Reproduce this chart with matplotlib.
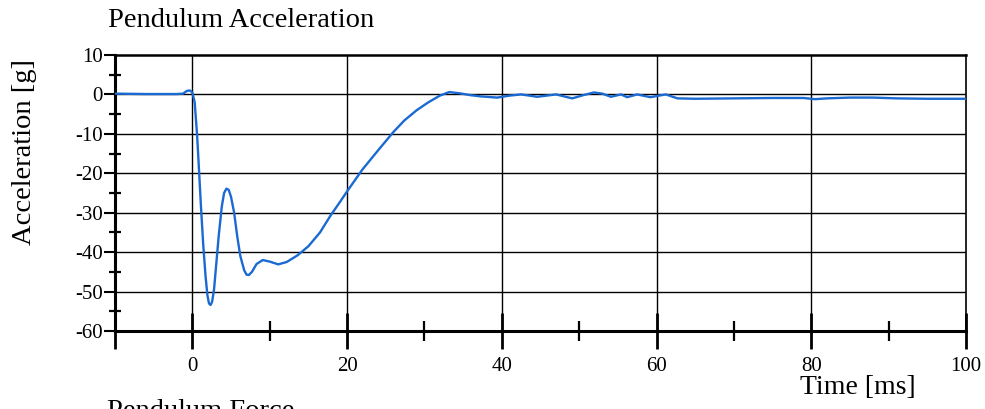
import numpy as np
import matplotlib
matplotlib.use('Agg')
import matplotlib.pyplot as plt

plt.rcParams['font.family'] = ['Liberation Serif', 'DejaVu Serif']
plt.rcParams['axes.unicode_minus'] = False

# pendulum acceleration trace (ms, g)
t_ms = [-10, -6, -2, -1.2, -0.7, -0.3, 0.0, 0.3, 0.6, 0.8, 1.1, 1.4, 1.7, 1.95, 2.15, 2.35, 2.55, 2.8,
        3.0, 3.4, 3.8, 4.1, 4.4, 4.7, 5.0, 5.4, 5.8, 6.2, 6.7, 7.0, 7.3, 7.7, 8.3, 9.1, 10.0, 11.1,
        12.2, 13.6, 15.0, 16.5, 17.9, 19.0, 20.1, 22.0, 24.0, 26.0, 27.4, 29.0, 30.5, 32.0,
        33.2, 34.5, 36.0, 37.3, 39.4, 41.0, 42.5, 44.6, 47.0, 49.1, 50.5, 51.9, 53.0, 54.1,
        55.4, 56.2, 57.5, 59.2, 61.2, 62.7, 65, 70, 75, 79, 80.5, 82, 85, 88, 91, 95, 100]
acc_g = [0.2, 0.1, 0.1, 0.2, 0.9, 1.0, 0.5, -2, -10, -17, -28, -38, -46, -51.0, -53.0, -53.4, -52.6, -49.5,
         -45, -36, -28.5, -25.0, -23.9, -24.2, -26, -30, -36, -41, -44.6, -45.7, -45.8, -45, -43, -42, -42.4, -43.1,
         -42.5, -40.8, -38.5, -35, -30.6, -27.5, -24.3, -19, -14.2, -9.5, -6.6, -4, -2, -0.3,
         0.6, 0.3, -0.2, -0.5, -0.8, -0.3, 0.0, -0.6, 0.0, -1.0, -0.2, 0.5, 0.2, -0.6,
         0.0, -0.7, 0.0, -0.7, 0.0, -1.0, -1.1, -1.0, -0.9, -0.9, -1.2, -1.0, -0.8, -0.8, -1.0, -1.1, -1.1]

x_major = [-10, 0, 20, 40, 60, 80, 100]
x_labels = ['', '0', '20', '40', '60', '80', '100']
x_minor = [10, 30, 50, 70, 90]
y_major = [10, 0, -10, -20, -30, -40, -50, -60]
y_minor = [5, -5, -15, -25, -35, -45, -55]

fig = plt.figure(figsize=(9.85, 4.09), dpi=100)
ax = fig.add_axes([115/985, 1-331/409, (966-115)/985, (331-55)/409])

ax.plot(t_ms, acc_g, color='#1a6ad2', lw=1.7, zorder=3)

ax.set_xlim(-10, 100)
ax.set_ylim(-60, 10)
ax.set_xticks(x_major)
ax.set_xticklabels(x_labels)
ax.set_xticks(x_minor, minor=True)
ax.set_yticks(y_major)
ax.set_yticks(y_minor, minor=True)

# grid: horizontal every 10 g, vertical only at the labelled times
for yv in y_major[1:-1]:
    ax.axhline(yv, color='black', lw=1.0, zorder=1)
for xv in [0, 20, 40, 60, 80]:
    ax.axvline(xv, color='black', lw=1.0, zorder=1)

ax.tick_params(axis='x', which='major', direction='inout', length=26, width=2, pad=6, labelsize=15)
ax.tick_params(axis='x', which='minor', direction='inout', length=14, width=1.6)
ax.tick_params(axis='y', which='major', direction='out', length=8, width=1.5, pad=1, labelsize=15)
ax.tick_params(axis='y', which='minor', direction='inout', length=8, width=1.6)

ax.spines['left'].set_linewidth(2.2)
ax.spines['bottom'].set_linewidth(2.2)
ax.spines['top'].set_linewidth(1.8)
ax.spines['right'].set_linewidth(1.2)

fig.text(108/985, 1-27/409, 'Pendulum Acceleration', fontsize=20.5, ha='left', va='baseline')
fig.text(25/985, 1-152/409, 'Acceleration [g]', fontsize=20.5, rotation=90, ha='center', va='center')
fig.text(858/985, 1-394/409, 'Time [ms]', fontsize=20, ha='center', va='baseline')
fig.text(107/985, 1-399/409, 'Pendulum Force', fontsize=20.5, ha='left', va='top')

fig.savefig('out.png', dpi=100)
